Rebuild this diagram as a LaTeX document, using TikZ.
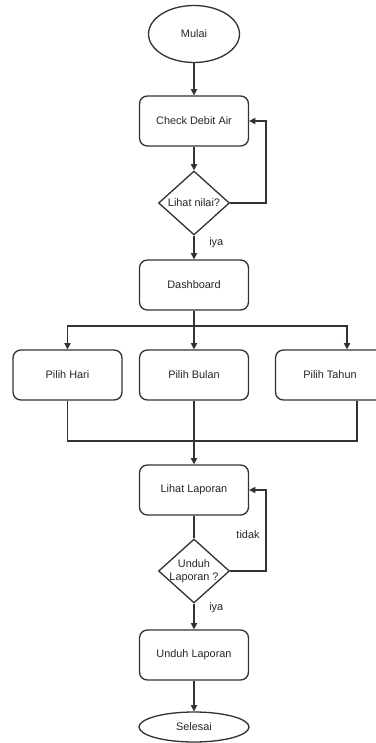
\documentclass[tikz,border=0pt]{standalone}
\usepackage{fontspec}
\setmainfont{Liberation Sans}
\usetikzlibrary{shapes.geometric}
\usetikzlibrary{arrows.meta}

\tikzset{
  flowline/.style={line width=0.75pt, draw=black!80},
  flowarrow/.style={flowline, -{Triangle[length=3.6pt,width=3.6pt]}},
  startstop/.style={ellipse, flowline, fill=white, inner sep=0pt},
  process/.style={rectangle, rounded corners=4.5pt, flowline, fill=white,
    minimum width=2.18cm, minimum height=1cm, inner sep=0pt},
  decision/.style={diamond, flowline, fill=white, inner sep=0pt,
    minimum width=1.42cm, minimum height=1.28cm},
  note/.style={font=\fontsize{6.2}{7.5}\selectfont, text=black!85}
}

\begin{document}
\begin{tikzpicture}[x=0.02cm, y=-0.02cm, every node/.style={font=\fontsize{6.2}{7.5}\selectfont, text=black!85}]
\useasboundingbox (0,0) rectangle (375,743);

% nodes
\node[startstop, minimum width=1.82cm, minimum height=1.14cm] (mulai) at (194,34) {Mulai};
\node[process] (check) at (194,121) {Check Debit Air};
\node[decision, label={center:Lihat nilai?}] (nilai) at (194,203) {};
\node[process] (dash) at (194,285) {Dashboard};
\node[process] (hari) at (67.5,375) {Pilih Hari};
\node[process] (bulan) at (194,375) {Pilih Bulan};
\node[process] (tahun) at (330,375) {Pilih Tahun};
\node[process] (lihat) at (194,490) {Lihat Laporan};
\node[decision, label={[align=center]center:Unduh\\Laporan ?}] (unduh) at (194,571) {};
\node[process] (dl) at (194,655) {Unduh Laporan};
\node[startstop, minimum width=2.2cm, minimum height=0.6cm] (selesai) at (194,727) {Selesai};

% connectors
\draw[flowarrow] (mulai) -- (check);
\draw[flowarrow] (check) -- (nilai);
\draw[flowarrow] (nilai.east) -| (266,160) |- (check.east);
\draw[flowarrow] (nilai) -- node[note, pos=0.3, right=5pt] {iya} (dash);

\coordinate (split) at (194,326);
\draw[flowarrow] (dash) -- (bulan);
\draw[flowarrow] (split) -| (hari.north);
\draw[flowarrow] (split) -| ([xshift=0.34cm]tahun.north);

\coordinate (merge) at (194,441);
\draw[flowline] (hari.south) |- (merge);
\draw[flowline] ([xshift=0.54cm]tahun.south) |- (merge);
\draw[flowarrow] (bulan) -- (lihat);

\draw[flowline] (lihat) -- (unduh);
\draw[flowarrow] (unduh.east) -| (266,530) |- (lihat.east);
\node[note] (tidak) at (248,535) {tidak};
\draw[flowarrow] (unduh) -- node[note, pos=0.15, right=5pt] {iya} (dl);
\draw[flowarrow] (dl) -- (selesai);
\end{tikzpicture}
\end{document}
